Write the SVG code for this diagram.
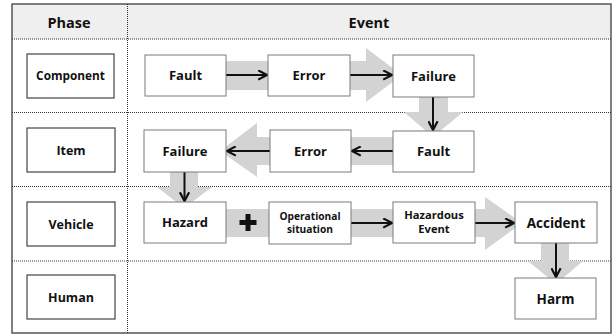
<svg xmlns="http://www.w3.org/2000/svg" width="612" height="335" viewBox="0 0 612 335">
<defs>
<style>
.box{fill:#fff;stroke:#7a7a7a;stroke-width:1}
.pbox{fill:#fff;stroke:#444;stroke-width:1.2}
.t{font-family:"Open Sans","Liberation Sans",sans-serif;font-weight:bold;fill:#111;text-anchor:middle}
.band{fill:#d3d3d3}
.dot{stroke:#333;stroke-width:1;stroke-dasharray:1,1;fill:none}
.arr{stroke:#111;stroke-width:2;fill:none;marker-end:url(#ah)}
</style>
<marker id="ah" viewBox="0 0 10 10" refX="9" refY="5" markerWidth="5.5" markerHeight="5.5" orient="auto" markerUnits="strokeWidth">
<path d="M1,0.8 L9,5 L1,9.2" fill="none" stroke="#111" stroke-width="2"/>
</marker>
</defs>
<rect x="0" y="0" width="612" height="335" fill="#fff"/>
<g id="table">
<rect x="12" y="4" width="599" height="35" fill="#efefef"/>
<rect x="12" y="4" width="599" height="329" fill="none" stroke="#555" stroke-width="1.5"/>
<line class="dot" x1="12" y1="39" x2="611" y2="39"/>
<line class="dot" x1="12" y1="112.5" x2="611" y2="112.5"/>
<line class="dot" x1="12" y1="186.5" x2="611" y2="186.5"/>
<line class="dot" x1="12" y1="261" x2="611" y2="261"/>
<line class="dot" x1="127.5" y1="4" x2="127.5" y2="333"/>
<text class="t" x="69" y="28" font-size="14.5">Phase</text>
<text class="t" x="369" y="28" font-size="14.5">Event</text>
</g>
<g id="connectors">
<rect class="band" x="226" y="61" width="42" height="29"/>
<polygon class="band" points="350,61 366,61 366,48 402,75 366,102 366,90 350,90"/>
<polygon class="band" points="419,97 419,112 404,112 433,137 463,112 448,112 448,97"/>
<rect class="band" x="351" y="137" width="42" height="28"/>
<polygon class="band" points="270,137 257,137 257,123 220,151 257,177 257,165 270,165"/>
<polygon class="band" points="170,172 170,187 157,187 184,208 212,187 198,187 198,172"/>
<rect class="band" x="226" y="209" width="43" height="28"/>
<rect class="band" x="351" y="209" width="42" height="28"/>
<polygon class="band" points="475,209 485,209 485,197 522,223 485,250 485,237 475,237"/>
<polygon class="band" points="541,243 541,261 528,261 556,284 583,261 569,261 569,243"/>
<line class="arr" x1="226" y1="75" x2="267" y2="75"/>
<line class="arr" x1="350" y1="75" x2="392" y2="75"/>
<line class="arr" x1="433" y1="97" x2="433" y2="130"/>
<line class="arr" x1="393" y1="151" x2="352" y2="151"/>
<line class="arr" x1="270" y1="151" x2="227" y2="151"/>
<line class="arr" x1="184.5" y1="172" x2="184.5" y2="201"/>
<line class="arr" x1="351" y1="223" x2="392" y2="223"/>
<line class="arr" x1="475" y1="223" x2="514" y2="223"/>
<line class="arr" x1="556" y1="243" x2="556" y2="277"/>
<path d="M245.5,214 h5 v6 h6 v5 h-6 v6 h-5 v-6 h-6 v-5 h6 z" fill="#111"/>
</g>
<g id="p-component"><rect class="pbox" x="27" y="54" width="87" height="44"/><text class="t" x="70.5" y="80" font-size="11.8">Component</text></g>
<g id="p-item"><rect class="pbox" x="27" y="128" width="88" height="44"/><text class="t" x="71" y="154.5" font-size="12.5">Item</text></g>
<g id="p-vehicle"><rect class="pbox" x="27" y="202" width="88" height="44"/><text class="t" x="71" y="228.5" font-size="12.5">Vehicle</text></g>
<g id="p-human"><rect class="pbox" x="27" y="275" width="88" height="44"/><text class="t" x="71" y="301.5" font-size="12.5">Human</text></g>
<g id="c-fault"><rect class="box" x="145" y="55" width="81" height="41"/><text class="t" x="185.5" y="80" font-size="13">Fault</text></g>
<g id="c-error"><rect class="box" x="268" y="55" width="82" height="41"/><text class="t" x="309" y="80" font-size="13">Error</text></g>
<g id="c-failure"><rect class="box" x="393" y="55" width="81" height="42"/><text class="t" x="433.5" y="80.5" font-size="13">Failure</text></g>
<g id="i-fault"><rect class="box" x="393" y="131" width="81" height="41"/><text class="t" x="433.5" y="156" font-size="13">Fault</text></g>
<g id="i-error"><rect class="box" x="270" y="130" width="81" height="42"/><text class="t" x="310.5" y="155.5" font-size="13">Error</text></g>
<g id="i-failure"><rect class="box" x="144" y="130" width="82" height="42"/><text class="t" x="185" y="155.5" font-size="13">Failure</text></g>
<g id="v-hazard"><rect class="box" x="144" y="202" width="82" height="41"/><text class="t" x="185" y="227" font-size="13">Hazard</text></g>
<g id="v-opsit"><rect class="box" x="269" y="202" width="82" height="42"/><text class="t" x="310" y="219.5" font-size="10.2">Operational</text><text class="t" x="310" y="232.5" font-size="10.2">situation</text></g>
<g id="v-hazev"><rect class="box" x="393" y="202" width="82" height="41"/><text class="t" x="434" y="219" font-size="11.2">Hazardous</text><text class="t" x="434" y="233" font-size="11.2">Event</text></g>
<g id="v-accident"><rect class="box" x="515" y="202" width="82" height="41"/><text class="t" x="556" y="227.5" font-size="13.5">Accident</text></g>
<g id="h-harm"><rect class="box" x="515" y="278" width="81" height="41"/><text class="t" x="555.5" y="303.5" font-size="13.5">Harm</text></g>
</svg>
